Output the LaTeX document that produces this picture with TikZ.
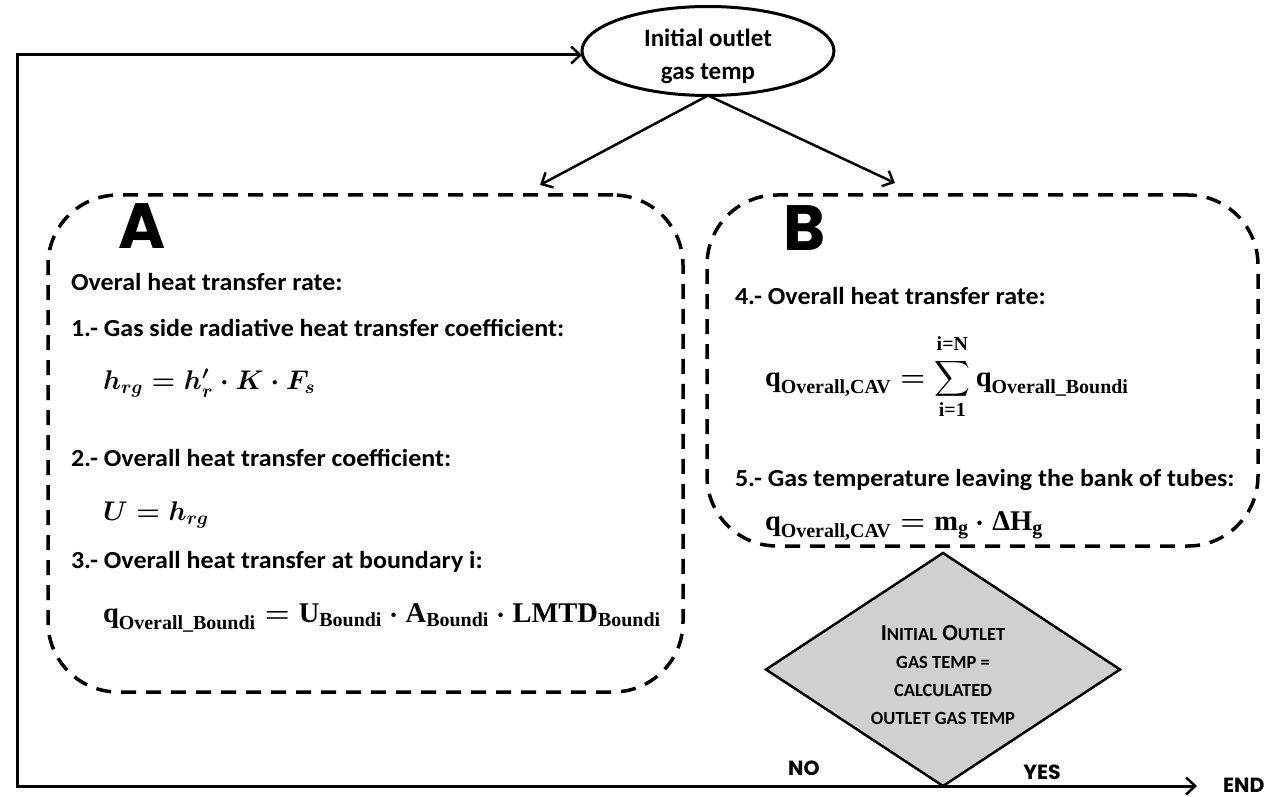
\RequirePackage{fix-cm}
\documentclass[tikz,border=0pt]{standalone}
\usepackage{amsmath,bm}
\usepackage{fontspec}
\usetikzlibrary{shapes.geometric,arrows.meta,calc}
\newfontfamily\labelfont{Carlito}[FakeStretch=1.06]
\newfontfamily\plainlabel{Carlito}
\newfontfamily\geofont{Poppins}
\newfontfamily\eqfont{Liberation Serif}
\definecolor{decisiongray}{RGB}{208,208,208}
% upright bold serif pieces of the equations
\newcommand{\eb}[1]{\text{\eqfont\bfseries #1}}
% faked small capitals: large initial, smaller uppercase rest
\newcommand{\scinit}[1]{{\fontsize{23}{28.3}\selectfont #1}}
\newcommand{\screst}[1]{{\fontsize{18.5}{28.3}\selectfont #1}}
\begin{document}
\begin{tikzpicture}[x=1pt,y=-1pt,
  every node/.style={inner sep=0pt, outer sep=0pt},
  txt/.style={anchor=base west, font=\labelfont\bfseries\fontsize{24.5}{28}\selectfont},
  eq/.style={anchor=base west, font=\boldmath\fontsize{27}{32}\selectfont},
  eqq/.style={anchor=base west, font=\boldmath\fontsize{28.5}{34}\selectfont},
  letter/.style={font=\geofont\bfseries\fontsize{64}{64}\selectfont},
  tag/.style={font=\geofont\bfseries\fontsize{20.5}{21}\selectfont},
  group/.style={draw, line width=3.5pt, dash pattern=on 15pt off 10pt, rounded corners=70pt},
  flow/.style={line width=2.5pt, -{Straight Barb[length=9pt,width=17pt,line width=2.5pt]}}
]
\useasboundingbox (0,0) rectangle (1278,797);

% start node
\node[ellipse, draw, line width=3pt, minimum width=252pt, minimum height=89pt] (init) at (708,51) {};
\node[align=center, font=\plainlabel\bfseries\fontsize{25}{33}\selectfont] (initlbl) at (708,56)
      {Initial outlet\\gas temp};

% the two calculation groups
\node[group, minimum width=635pt, minimum height=497pt] (boxA) at (365.5,443.5) {};
\node[group, minimum width=551pt, minimum height=351pt] (boxB) at (982.5,370.5) {};

\node[letter] (letA) at (142,226) {A};
\node[letter] (letB) at (805,228) {B};

% group A contents
\node[txt] (a0) at (71,290) {Overal heat transfer rate:};
\node[txt] (a1) at (71,336) {1.- Gas side radiative heat transfer coefficient:};
\node[eq]  (e1) at (103,389) {$h_{rg} = h^{\prime}_{r}\cdot K\cdot F_{s}$};
\node[txt] (a2) at (71,466) {2.- Overall heat transfer coefficient:};
\node[eq]  (e2) at (103,520) {$U = h_{rg}$};
\node[txt] (a3) at (71,568) {3.- Overall heat transfer at boundary i:};
\node[eqq] (e3) at (103,622) {$\eb{q}_{\eb{Overall\_Boundi}} = \eb{U}_{\eb{Boundi}}\cdot\eb{A}_{\eb{Boundi}}\cdot\eb{LMTD}_{\eb{Boundi}}$};

% group B contents
\node[txt] (b4) at (735,304) {4.- Overall heat transfer rate:};
\node[eqq] (e4) at (765,386) {$\displaystyle \eb{q}_{\eb{Overall,CAV}} = \sum\limits_{\eb{i=1}}^{\raisebox{3pt}{$\scriptstyle\eb{i=N}$}}\eb{q}_{\eb{Overall\_Boundi}}$};
\node[txt] (b5) at (735,486) {5.- Gas temperature leaving the bank of tubes:};
\node[eqq] (e5) at (765,530) {$\eb{q}_{\eb{Overall,CAV}} = \eb{m}_{\eb{g}}\cdot\eb{ΔH}_{\eb{g}}$};

% decision
\node[diamond, draw, fill=decisiongray, line width=2.5pt, minimum width=354pt, minimum height=233pt,
      aspect=1.52] (check) at (943,669.5) {};
\node[align=center, font=\plainlabel\bfseries\fontsize{23}{28.3}\selectfont] (checklbl) at (943,675)
      {\scinit{I}\screst{NITIAL} \scinit{O}\screst{UTLET}\\
       \screst{GAS TEMP =}\\
       \screst{CALCULATED}\\
       \screst{OUTLET GAS TEMP}};

\node[tag] (no)  at (804,768) {NO};
\node[tag] (yes) at (1042,772) {YES};
\node[tag, anchor=west] (finish) at (1223,785) {END};

% connectors
\coordinate (loop) at (17,55);
\draw[flow] (init.south) -- ($(boxA.north)+(174.5,-10)$);
\draw[flow] (init.south) -- ($(boxB.north)+(-87.5,-12)$);
\draw[flow, line width=3pt] (check.south) -| (loop) -- (loop -| init.west);
\draw[flow, line width=3pt] (check.south) -- (check.south -| {$(finish.west)+(-26,0)$});
\end{tikzpicture}
\end{document}
